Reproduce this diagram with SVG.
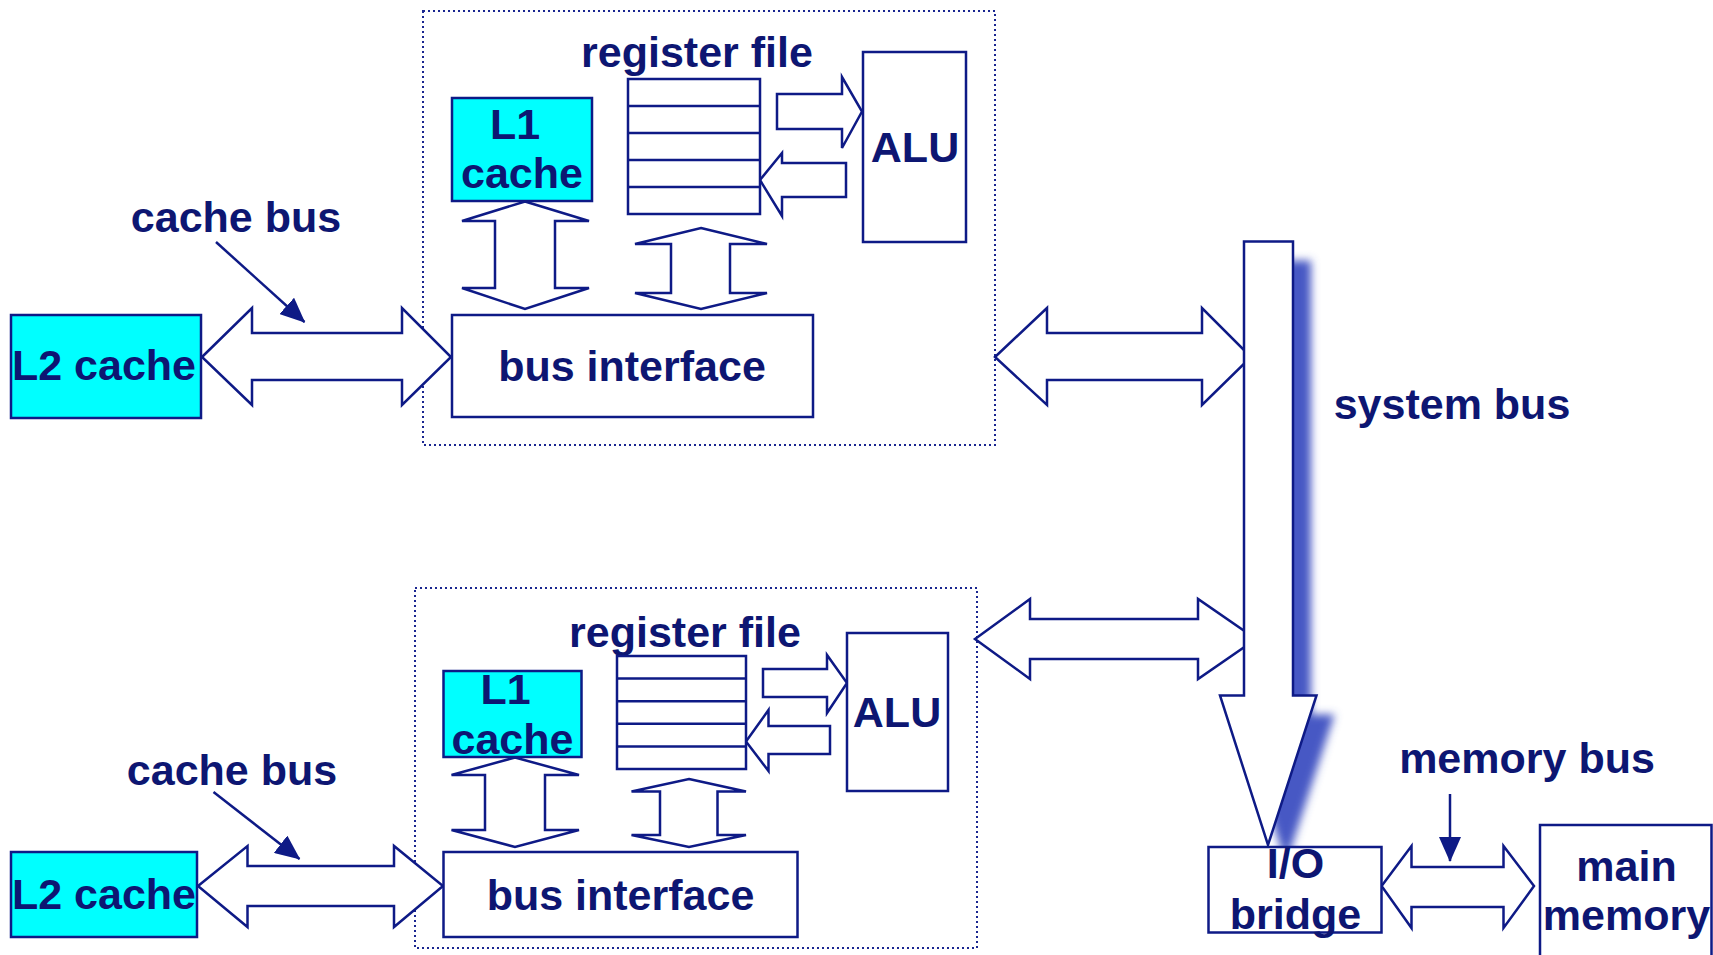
<svg xmlns="http://www.w3.org/2000/svg" width="1713" height="955" viewBox="0 0 1713 955">
  <defs>
    <style>
      .box { fill: #ffffff; stroke: #0e1a86; stroke-width: 2.5; }
      .cyan { fill: #00ffff; stroke: #0e1a86; stroke-width: 2.5; }
      .arrow { fill: #ffffff; stroke: #0e1a86; stroke-width: 2.5; stroke-linejoin: miter; }
      .row { stroke: #0e1a86; stroke-width: 2.5; }
      .frame { fill: none; stroke: #1a2690; stroke-width: 2; stroke-dasharray: 2 3; }
      .ptr { stroke: #0e1a86; stroke-width: 2.5; fill: none; }
      text { font-family: "Liberation Sans", Arial, Helvetica, sans-serif; font-weight: bold; font-size: 43px; fill: #0d1672; text-anchor: middle; }
    </style>
    <marker id="head" viewBox="0 0 25 22" refX="24" refY="11" markerWidth="25" markerHeight="22" markerUnits="userSpaceOnUse" orient="auto">
      <path d="M0,0 L25,11 L0,22 Z" fill="#0e1a86"/>
    </marker>
    <filter id="soft" x="-30%" y="-10%" width="160%" height="120%">
      <feGaussianBlur stdDeviation="4"/>
    </filter>
  </defs>

  <!-- processor package outlines -->
  <g id="cpu-frames">
    <rect class="frame" x="423" y="11" width="572" height="434"/>
    <rect class="frame" x="415" y="588" width="562" height="360"/>
  </g>

  <!-- connectors: bus arrows and pointers -->
  <g id="connectors">
    <!-- upper processor -->
    <polygon class="arrow" points="202,357 252,308 252,333 402,333 402,308 451,357 402,405 402,380 252,380 252,405"/>
    <polygon class="arrow" points="995,357 1047,308 1047,333 1202,333 1202,308 1251,357 1202,405 1202,380 1047,380 1047,405"/>
    <polygon class="arrow" points="525,201.5 589,221 555,221 555,288 589,288 525,309 462,288 495,288 495,221 462,221"/>
    <polygon class="arrow" points="701,228 767,244 730,244 730,293 767,293 701,309 635,293 671,293 671,244 635,244"/>
    <polygon class="arrow" points="777,94 842,94 842,77 862,111.5 842,148 842,129 777,129"/>
    <polygon class="arrow" points="760,180 782,153 782,163 846,163 846,197 782,197 782,216"/>
    <line class="ptr" x1="216" y1="242" x2="304.5" y2="322" marker-end="url(#head)"/>

    <!-- lower processor -->
    <polygon class="arrow" points="198,886 247.5,846 247.5,866 394,866 394,846 443,886 394,927 394,906 247.5,906 247.5,927"/>
    <polygon class="arrow" points="975,639 1030,599 1030,619 1198,619 1198,599 1256,639 1198,679 1198,659 1030,659 1030,679"/>
    <polygon class="arrow" points="515,757.5 579,775 545,775 545,830 579,830 515,847 451.5,830 485,830 485,775 451.5,775"/>
    <polygon class="arrow" points="689,779 746,791.5 717.5,791.5 717.5,835 746,835 689,847 631.5,835 660,835 660,791.5 631.5,791.5"/>
    <polygon class="arrow" points="763,669 827,669 827,655 847,683 827,713 827,697 763,697"/>
    <polygon class="arrow" points="746,741.5 768.5,710 768.5,726 830,726 830,754 768.5,754 768.5,771"/>
    <line class="ptr" x1="213.5" y1="792" x2="299.5" y2="859" marker-end="url(#head)"/>

    <!-- system bus with drop shadow -->
    <polygon points="1244,241.5 1293,241.5 1293,695.5 1316.5,695.5 1268,845 1220,695.5 1244,695.5" fill="#4658c4" transform="translate(18,19)" filter="url(#soft)"/>
    <polygon class="arrow" points="1244,241.5 1293,241.5 1293,695.5 1316.5,695.5 1268,845 1220,695.5 1244,695.5"/>

    <!-- memory bus -->
    <polygon class="arrow" points="1381.6,886 1411.5,846 1411.5,867 1503.5,867 1503.5,846 1534,886 1503.5,928 1503.5,907 1411.5,907 1411.5,928"/>
    <line class="ptr" x1="1450" y1="794" x2="1450" y2="861" marker-end="url(#head)"/>
  </g>

  <!-- upper processor nodes -->
  <g id="l2-cache-1">
    <rect class="cyan" x="11" y="315" width="190" height="103"/>
    <text x="104" y="380">L2 cache</text>
  </g>
  <g id="l1-cache-1">
    <rect class="cyan" x="452" y="98" width="140" height="103"/>
    <text x="515" y="139">L1</text>
    <text x="522" y="188">cache</text>
  </g>
  <g id="register-file-1">
    <text x="697" y="66.5">register file</text>
    <rect class="box" x="628" y="79" width="132" height="135"/>
    <line class="row" x1="628" y1="106" x2="760" y2="106"/>
    <line class="row" x1="628" y1="133" x2="760" y2="133"/>
    <line class="row" x1="628" y1="160" x2="760" y2="160"/>
    <line class="row" x1="628" y1="187" x2="760" y2="187"/>
  </g>
  <g id="alu-1">
    <rect class="box" x="863" y="52" width="103" height="190"/>
    <text x="915" y="161.5">ALU</text>
  </g>
  <g id="bus-interface-1">
    <rect class="box" x="452" y="315" width="361" height="102"/>
    <text x="632" y="380.5">bus interface</text>
  </g>
  <g id="cache-bus-label-1">
    <text x="236" y="232">cache bus</text>
  </g>

  <!-- lower processor nodes -->
  <g id="l2-cache-2">
    <rect class="cyan" x="11" y="852" width="186" height="85"/>
    <text x="104" y="909">L2 cache</text>
  </g>
  <g id="l1-cache-2">
    <rect class="cyan" x="443.5" y="671" width="138" height="86"/>
    <text x="505.5" y="703.5">L1</text>
    <text x="512.5" y="754">cache</text>
  </g>
  <g id="register-file-2">
    <text x="685" y="647">register file</text>
    <rect class="box" x="617" y="656" width="129" height="113"/>
    <line class="row" x1="617" y1="678.6" x2="746" y2="678.6"/>
    <line class="row" x1="617" y1="701.2" x2="746" y2="701.2"/>
    <line class="row" x1="617" y1="723.8" x2="746" y2="723.8"/>
    <line class="row" x1="617" y1="746.4" x2="746" y2="746.4"/>
  </g>
  <g id="alu-2">
    <rect class="box" x="847" y="633" width="101" height="158"/>
    <text x="897" y="726.5">ALU</text>
  </g>
  <g id="bus-interface-2">
    <rect class="box" x="443.5" y="852" width="354" height="85"/>
    <text x="620.5" y="909.5">bus interface</text>
  </g>
  <g id="cache-bus-label-2">
    <text x="232" y="785">cache bus</text>
  </g>

  <!-- system side -->
  <g id="system-bus-label">
    <text x="1452" y="419">system bus</text>
  </g>
  <g id="io-bridge">
    <rect class="box" x="1208.5" y="847" width="173" height="85.5"/>
    <text x="1295.5" y="877.5">I/O</text>
    <text x="1295.5" y="929">bridge</text>
  </g>
  <g id="memory-bus-label">
    <text x="1527" y="773">memory bus</text>
  </g>
  <g id="main-memory">
    <rect class="box" x="1540" y="825" width="171.5" height="140"/>
    <text x="1626.5" y="881">main</text>
    <text x="1626.5" y="930">memory</text>
  </g>
</svg>
